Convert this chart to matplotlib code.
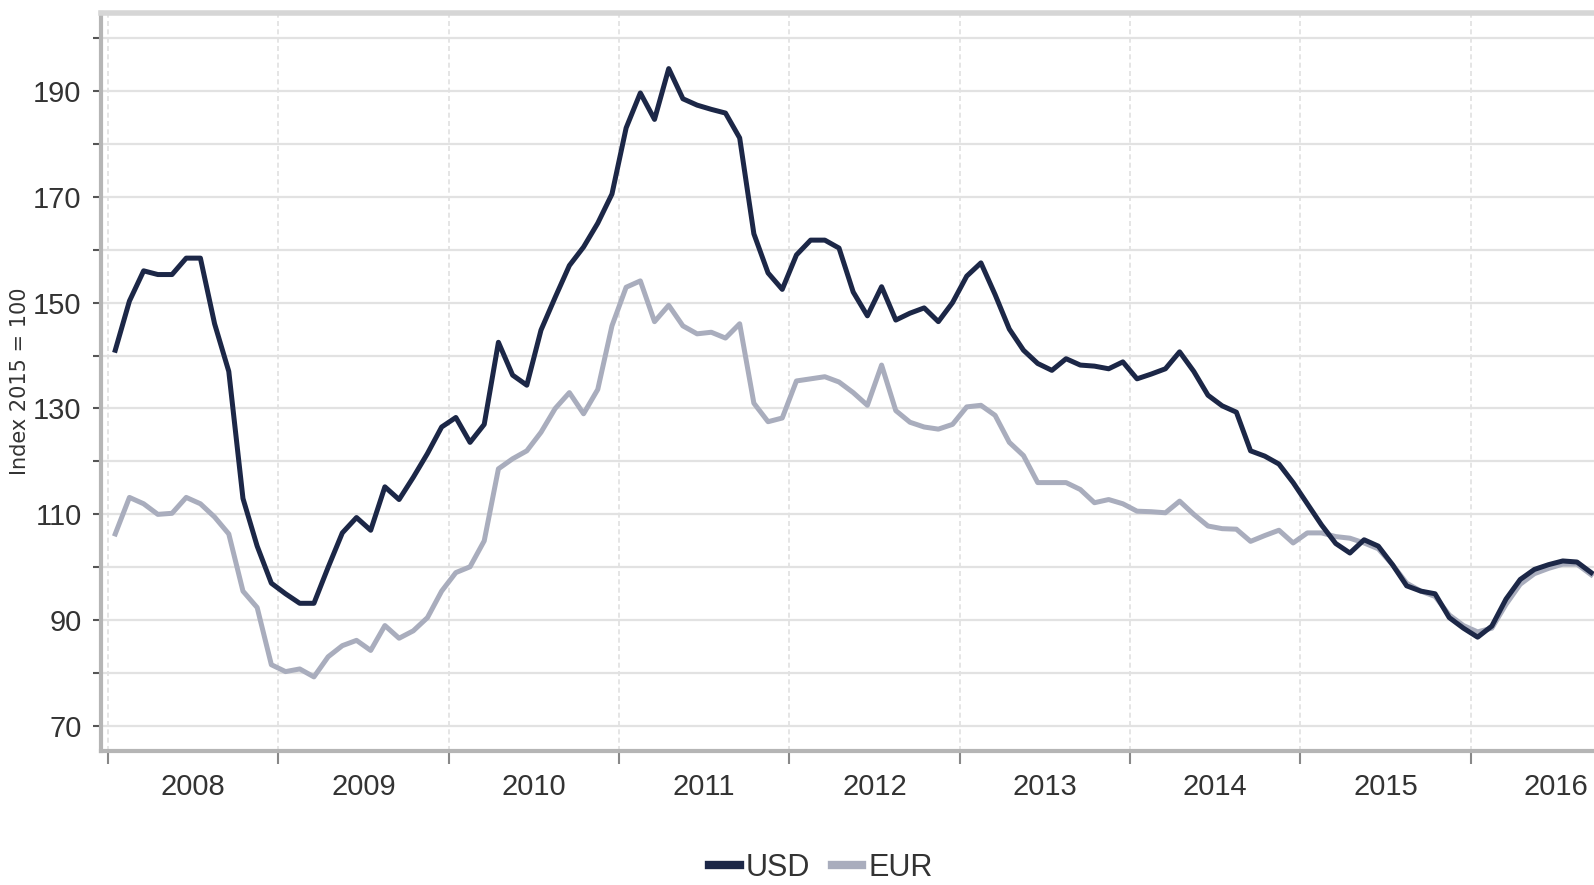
import matplotlib
matplotlib.use("Agg")
import matplotlib.pyplot as plt
import numpy as np

# monthly index values, Jan 2008 .. Sep 2016 (Index 2015 = 100)
usd = [141, 150.3, 156, 155.3, 155.3, 158.4, 158.4, 146, 137, 113,
       104, 97, 95, 93.2, 93.2, 100, 106.5, 109.4, 107, 115.2,
       112.8, 117, 121.5, 126.5, 128.3, 123.6, 127, 142.5, 136.3, 134.4,
       144.8, 151, 157, 160.5, 165, 170.5, 183, 189.6, 184.6, 194.2,
       188.5, 187.3, 186.5, 185.8, 181.1, 163, 155.6, 152.5, 159, 161.8,
       161.8, 160.3, 152, 147.5, 153, 146.7, 148, 149, 146.4, 150,
       155, 157.5, 151.5, 145, 141, 138.5, 137.2, 139.4, 138.2, 138,
       137.5, 138.8, 135.6, 136.5, 137.5, 140.7, 137, 132.5, 130.5, 129.3,
       122, 121, 119.5, 116, 112, 108, 104.5, 102.7, 105.2, 104,
       100.5, 96.5, 95.5, 95, 90.5, 88.5, 86.8, 88.9, 94, 97.7,
       99.6, 100.5, 101.2, 101, 99]
eur = [106.3, 113.2, 112, 110, 110.2, 113.2, 112, 109.5, 106.3, 95.5,
       92.4, 81.6, 80.3, 80.8, 79.3, 83.1, 85.2, 86.2, 84.3, 89,
       86.6, 88, 90.5, 95.5, 99, 100.1, 105, 118.6, 120.5, 122,
       125.5, 130, 133, 129, 133.6, 145.6, 152.9, 154.1, 146.4, 149.5,
       145.6, 144.1, 144.4, 143.3, 146, 131, 127.5, 128.2, 135.2, 135.6,
       136, 135, 133, 130.6, 138.2, 129.6, 127.4, 126.5, 126.1, 127,
       130.3, 130.6, 128.7, 123.6, 121.1, 116, 116, 116, 114.7, 112.2,
       112.8, 112, 110.6, 110.5, 110.3, 112.5, 110, 107.8, 107.3, 107.2,
       104.9, 106, 107, 104.6, 106.5, 106.5, 105.8, 105.5, 104.6, 103.5,
       100.5, 97, 95.5, 94.5, 91, 89, 87.8, 88.5, 93, 96.8,
       98.8, 99.8, 100.6, 100.6, 98.6]
years = [2008, 2009, 2010, 2011, 2012, 2013, 2014, 2015, 2016]

FONT = "Liberation Sans"
TXT = "#333333"

# months since Jan 2008, plotted mid-month
t = np.arange(len(usd)) + 0.5

fig = plt.figure(figsize=(15.94, 8.85), dpi=100)
ax = fig.add_axes([0.0634, 0.1514, 0.9366, 0.8339])

ax.plot(t, eur, color="#a9adbd", lw=3.6, label="EUR", zorder=3, solid_joinstyle="round")
ax.plot(t, usd, color="#1c2747", lw=3.6, label="USD", zorder=4, solid_joinstyle="round")

ax.set_xlim(-0.5, 104.7)
ax.set_ylim(65.3, 204.7)

# y axis: tick every 10, label every 20
ax.set_yticks(np.arange(70, 201, 10))
ax.set_yticklabels([str(v) if v % 20 == 10 else "" for v in range(70, 201, 10)])
ax.tick_params(axis="y", length=6, width=1.5, color="#555555", pad=8,
               labelsize=21, labelcolor=TXT)

# x axis: ticks at year starts, labels centred in the year
yr_start = [(y - 2008) * 12 for y in years]
ax.set_xticks(yr_start)
ax.set_xticklabels([])
ax.set_xticks([s + 6 for s in yr_start], minor=True)
ax.set_xticklabels([str(y) for y in years], minor=True)
ax.tick_params(axis="x", which="major", length=9, width=1.5, color="#888888")
ax.tick_params(axis="x", which="minor", length=0, pad=16, labelsize=21, labelcolor=TXT)
for lab in ax.get_xticklabels(minor=True) + ax.get_yticklabels():
    lab.set_family(FONT)

ax.grid(axis="y", color="#e2e2e2", lw=1.6)
ax.grid(axis="x", which="major", color="#e0e0e0", lw=1.2, ls=(0, (3, 2)))
ax.set_axisbelow(True)

for side in ["left", "bottom"]:
    ax.spines[side].set_color("#b5b5b5")
    ax.spines[side].set_linewidth(3)
ax.spines["top"].set_color("#d6d6d6")
ax.spines["top"].set_linewidth(4)
ax.spines["right"].set_visible(False)

fig.text(0.0125, 0.569, "Index 2015 = 100", rotation=90, ha="center", va="center",
         fontsize=15, color=TXT, family="DejaVu Sans")

h, l = ax.get_legend_handles_labels()
leg = fig.legend(h[::-1], l[::-1], loc="center", bbox_to_anchor=(0.515, 0.019), ncol=2,
                 frameon=False, handlelength=1.0, handletextpad=0.2, columnspacing=0.7,
                 prop={"family": FONT, "size": 22})
for ln in leg.get_lines():
    ln.set_linewidth(6)
for tx in leg.get_texts():
    tx.set_color(TXT)

fig.savefig("out.png", dpi=100, facecolor="white")
